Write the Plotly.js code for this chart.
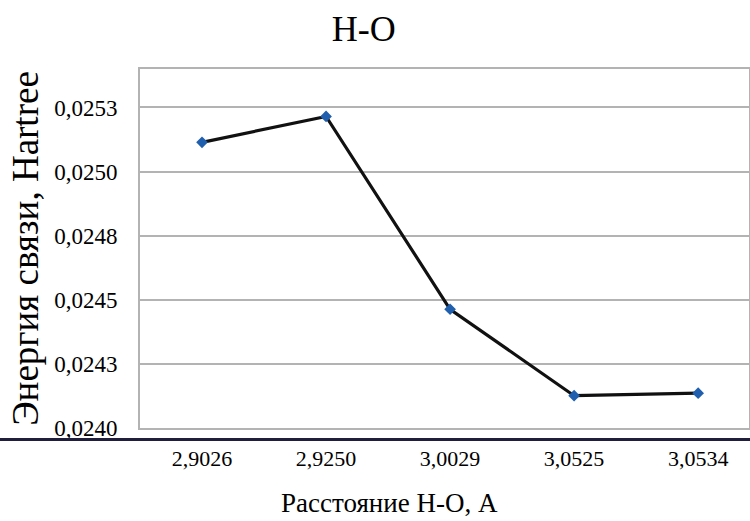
<!DOCTYPE html>
<html>
<head>
<meta charset="utf-8">
<script src="https://cdn.plot.ly/plotly-3.0.1.min.js"></script>
<style>html,body{margin:0;padding:0;background:#fff}#chart{width:750px;height:521px}</style>
</head>
<body>
<div id="chart"></div>
<script>
const categories = ['2,9026', '2,9250', '3,0029', '3,0525', '3,0534'];
const energies = [0.025114, 0.025215, 0.024463, 0.024126, 0.024136];
const yTickVals = [0.0240, 0.02425, 0.0245, 0.02475, 0.0250, 0.02525];
const yTickText = ['0,0240', '0,0243', '0,0245', '0,0248', '0,0250', '0,0253'];

const serif = 'Liberation Serif';

const trace = {
  x: categories,
  y: energies,
  type: 'scatter',
  mode: 'lines+markers',
  line: {color: '#111111', width: 3.2},
  marker: {symbol: 'diamond', size: 9, color: '#1f5fae', line: {width: 0}},
  hoverinfo: 'x+y'
};

const layout = {
  width: 750, height: 521,
  margin: {l: 140, r: 1, t: 69, b: 93},
  paper_bgcolor: '#ffffff',
  plot_bgcolor: '#ffffff',
  showlegend: false,
  title: {text: 'H-O', font: {family: serif, size: 36, color: '#000'}, x: 0.485, xanchor: 'center', y: 0.945, yanchor: 'middle'},
  xaxis: {
    type: 'category',
    range: [-0.5, 4.41],
    showgrid: false,
    showline: true, linecolor: '#b3b3b3', linewidth: 2, mirror: true,
    ticks: '', ticklabelstandoff: 10,
    tickfont: {family: serif, size: 22, color: '#000'},
    zeroline: false, fixedrange: true
  },
  yaxis: {
    range: [0.0240, 0.0254],
    tickvals: yTickVals, ticktext: yTickText,
    showgrid: true, gridcolor: '#b3b3b3', gridwidth: 2,
    showline: true, linecolor: '#b3b3b3', linewidth: 2, mirror: true,
    ticks: '', ticklabelstandoff: 16,
    tickfont: {family: serif, size: 23, color: '#000'},
    title: {text: 'Энергия связи, Hartree', font: {family: serif, size: 37, color: '#000'}, standoff: 4},
    zeroline: false, fixedrange: true
  },
  annotations: [{
    text: 'Расстояние Н-О, А', xref: 'paper', yref: 'paper',
    x: 0.4105, y: -0.208, xanchor: 'center', yanchor: 'middle',
    showarrow: false, font: {family: serif, size: 27, color: '#000'}
  }],
  shapes: [{
    type: 'line', xref: 'paper', yref: 'paper',
    x0: -0.24, x1: 1.01, y0: -0.032, y1: -0.032,
    line: {color: '#1f1f3d', width: 3}
  }]
};

Plotly.newPlot('chart', [trace], layout, {displayModeBar: false, staticPlot: true});
</script>
</body>
</html>
